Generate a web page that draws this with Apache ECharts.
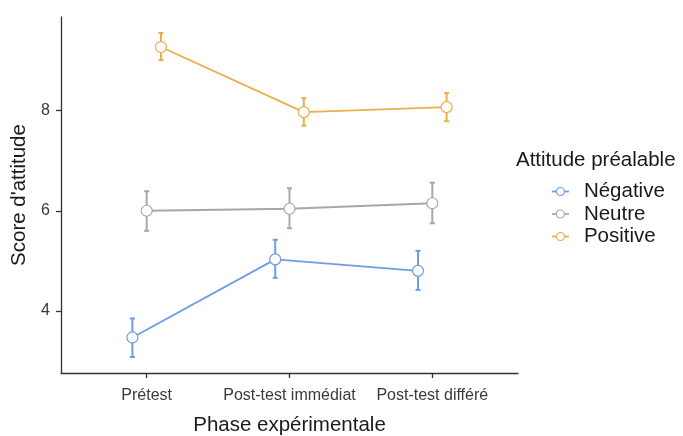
<!DOCTYPE html>
<html><head><meta charset="utf-8">
<script src="https://cdn.jsdelivr.net/npm/echarts@6/dist/echarts.min.js"></script>
<style>html,body{margin:0;padding:0;background:#fff}#c{width:683px;height:436px}</style>
</head><body><div id="c"></div>
<script>
const categories = ['Prétest', 'Post-test immédiat', 'Post-test différé'];
const groups = ['Négative', 'Neutre', 'Positive'];
const colors = ['#6E9CE6', '#A8A8A8', '#E9B04A'];
const dodge = [-0.1, 0, 0.1];
const negMean = [3.47, 5.03, 4.80];
const negLow  = [3.08, 4.66, 4.42];
const negHigh = [3.85, 5.42, 5.20];
const neuMean = [6.00, 6.04, 6.15];
const neuLow  = [5.60, 5.65, 5.75];
const neuHigh = [6.39, 6.45, 6.56];
const posMean = [9.27, 7.97, 8.07];
const posLow  = [9.01, 7.70, 7.79];
const posHigh = [9.55, 8.25, 8.35];
const yTicks = [4, 6, 8];

const means = [negMean, neuMean, posMean];
const lows = [negLow, neuLow, posLow];
const highs = [negHigh, neuHigh, posHigh];
const font = 'Liberation Sans, Arial, sans-serif';

const series = [];
groups.forEach((g, gi) => {
  series.push({
    type: 'custom', name: g + '_err', z: 2, silent: true,
    data: categories.map((c, i) => [i + 1 + dodge[gi], lows[gi][i], highs[gi][i]]),
    encode: {x: 0, y: [1, 2]},
    renderItem: function (params, api) {
      const x = api.value(0);
      const lo = api.coord([x, api.value(1)]);
      const hi = api.coord([x, api.value(2)]);
      const hw = 2.5;
      const st = {stroke: colors[gi], lineWidth: 2};
      return {type: 'group', children: [
        {type: 'line', shape: {x1: lo[0], y1: lo[1], x2: hi[0], y2: hi[1]}, style: st},
        {type: 'line', shape: {x1: lo[0]-hw, y1: lo[1], x2: lo[0]+hw, y2: lo[1]}, style: st},
        {type: 'line', shape: {x1: hi[0]-hw, y1: hi[1], x2: hi[0]+hw, y2: hi[1]}, style: st}
      ]};
    }
  });
});
groups.forEach((g, gi) => {
  series.push({
    type: 'line', name: g, z: 3,
    data: categories.map((c, i) => [i + 1 + dodge[gi], means[gi][i]]),
    symbol: 'circle', symbolSize: 11,
    lineStyle: {color: colors[gi], width: 1.8},
    itemStyle: {color: '#fff', borderColor: colors[gi], borderWidth: 1.2},
    emphasis: {disabled: true}
  });
});

const chart = echarts.init(document.getElementById('c'), null, {renderer: 'canvas'});
chart.setOption({
  animation: false,
  backgroundColor: '#fff',
  grid: {left: 61, top: 17, right: 165, bottom: 63, containLabel: false, outerBoundsMode: 'none'},
  title: {text: 'Attitude préalable', left: 511, top: 145,
    textStyle: {fontFamily: font, fontSize: 20.5, fontWeight: 'normal', color: '#1a1a1a'}},
  legend: {
    data: groups.map((g, gi) => ({name: g, itemStyle: {color: '#fff', borderColor: colors[gi], borderWidth: 1.2}, lineStyle: {color: colors[gi], width: 1.8}})),
    orient: 'vertical', left: 546, top: 176, itemGap: 1.5, itemWidth: 17, itemHeight: 10,
    textStyle: {fontFamily: font, fontSize: 20.5, color: '#1a1a1a', padding: [0, 0, 0, 10]},
    selectedMode: false
  },
  xAxis: {
    type: 'value', min: 0.4, max: 3.6,
    name: 'Phase expérimentale', nameLocation: 'middle', nameGap: 42,
    nameTextStyle: {fontFamily: font, fontSize: 20.5, color: '#1a1a1a'},
    axisLine: {show: true, onZero: false, lineStyle: {color: '#333', width: 1.3}},
    axisTick: {show: true, customValues: [1, 2, 3], length: 5, lineStyle: {color: '#333', width: 1.3}},
    axisLabel: {customValues: [1, 2, 3], margin: 15, fontFamily: font, fontSize: 16, color: '#3a3a3a',
      formatter: v => categories[Math.round(v) - 1] || ''},
    splitLine: {show: false}
  },
  yAxis: {
    type: 'value', min: 2.76, max: 9.87,
    name: "Score d'attitude", nameLocation: 'middle', nameGap: 25,
    nameTextStyle: {fontFamily: font, fontSize: 20.5, color: '#1a1a1a'},
    axisLine: {show: true, onZero: false, lineStyle: {color: '#333', width: 1.3}},
    axisTick: {show: true, customValues: yTicks, length: 5, lineStyle: {color: '#333', width: 1.3}},
    axisLabel: {customValues: yTicks, margin: 11, fontFamily: font, fontSize: 16, color: '#3a3a3a'},
    splitLine: {show: false}
  },
  series: series
});
</script></body></html>
